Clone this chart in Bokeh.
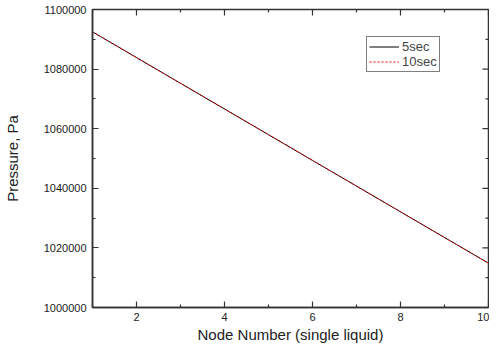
import math
from bokeh.plotting import figure
from bokeh.models import LinearAxis, FixedTicker, Legend, LegendItem, NumeralTickFormatter
from bokeh.embed import file_html
from bokeh.resources import INLINE

node = [1, 2, 3, 4, 5, 6, 7, 8, 9, 10]
p5sec = [1092500, 1083870, 1075240, 1066620, 1057990, 1049360, 1040740, 1032110, 1023490, 1014870]
p10sec = [1092500, 1083870, 1075240, 1066620, 1057990, 1049360, 1040740, 1032110, 1023490, 1014870]
x_major = [2, 4, 6, 8, 10]
x_minor = [1, 3, 5, 7, 9]
y_major = [1000000, 1020000, 1040000, 1060000, 1080000, 1100000]
y_minor = [1010000, 1030000, 1050000, 1070000, 1090000]

FONT = "Liberation Sans"
AXC = "#333333"
X0, X1 = 1, 10
Y0, Y1 = 1000000, 1100000

p = figure(width=484, height=344, frame_width=396, frame_height=298, x_range=(X0, X1), y_range=(Y0, Y1),
           output_backend="svg", toolbar_location=None, x_axis_type=None, y_axis_type=None,
           min_border_left=87, min_border_top=9, min_border_right=1, min_border_bottom=37)
p.grid.visible = False
p.outline_line_color = AXC
p.outline_line_width = 1.5
p.background_fill_color = "white"
p.border_fill_color = "white"

def mk_axis(ticks, minor, label):
    ax = LinearAxis(ticker=FixedTicker(ticks=ticks, minor_ticks=minor))
    ax.major_tick_in = 6
    ax.major_tick_out = 0
    ax.minor_tick_in = 3
    ax.minor_tick_out = 0
    ax.axis_line_color = AXC
    ax.axis_line_width = 1.5
    ax.major_tick_line_color = AXC
    ax.minor_tick_line_color = AXC
    ax.major_tick_line_width = 1.2
    ax.minor_tick_line_width = 1.2
    ax.major_label_text_font = FONT
    ax.major_label_text_font_size = "11px"
    ax.major_label_text_color = "#222222"
    ax.axis_label = label
    ax.axis_label_text_font = FONT
    ax.axis_label_text_font_size = "15px"
    ax.axis_label_text_font_style = "normal"
    ax.axis_label_text_color = "#222222"
    return ax

bx = mk_axis(x_major, x_minor, "Node Number (single liquid)")
bx.major_label_standoff = 5
bx.axis_label_standoff = 2
p.add_layout(bx, "below")
ly = mk_axis(y_major, y_minor, "Pressure, Pa")
ly.formatter = NumeralTickFormatter(format="0")
ly.major_label_standoff = 6
ly.axis_label_standoff = 20
p.add_layout(ly, "left")

# inward ticks on the top and right frame edges
p.ray(x=x_major, y=[Y1] * len(x_major), length=6, length_units="screen", angle=-math.pi / 2,
      line_color=AXC, line_width=1.2)
p.ray(x=x_minor, y=[Y1] * len(x_minor), length=3, length_units="screen", angle=-math.pi / 2,
      line_color=AXC, line_width=1.2)
p.ray(x=[X1] * len(y_major), y=y_major, length=6, length_units="screen", angle=math.pi,
      line_color=AXC, line_width=1.2)
p.ray(x=[X1] * len(y_minor), y=y_minor, length=3, length_units="screen", angle=math.pi,
      line_color=AXC, line_width=1.2)

r1 = p.line(node, p5sec, line_color="black", line_width=1)
r2 = p.line(node, p10sec, line_color="red", line_width=1, line_dash="2 2")

legend = Legend(items=[LegendItem(label="5sec", renderers=[r1]),
                       LegendItem(label="10sec", renderers=[r2])],
                location=(274, 235))
legend.label_text_font = FONT
legend.label_text_font_size = "13px"
legend.label_standoff = 3
legend.glyph_width = 30
legend.glyph_height = 15
legend.label_height = 15
legend.padding = 2
legend.margin = 0
legend.spacing = 0
legend.border_line_color = "black"
legend.border_line_width = 1
legend.background_fill_alpha = 1
p.add_layout(legend, "center")

open("out.html", "w").write(file_html(p, INLINE))
